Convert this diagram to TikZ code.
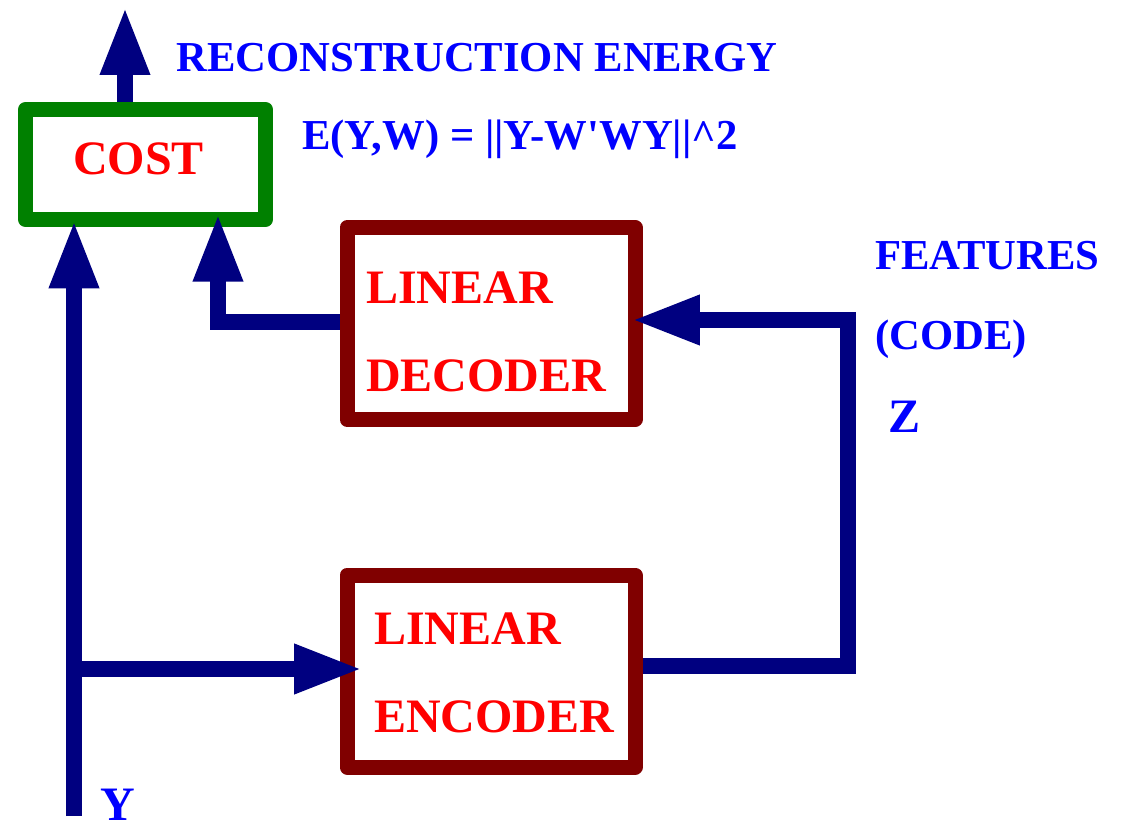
\documentclass[tikz,border=0pt]{standalone}
\usepackage{fontspec}
\setmainfont{Liberation Serif}
\usetikzlibrary{arrows.meta,calc}
\definecolor{navyc}{HTML}{000080}
\definecolor{boxred}{HTML}{800000}
\definecolor{costgreen}{HTML}{008000}
\definecolor{txtred}{HTML}{FF0000}
\definecolor{txtblue}{HTML}{0000FF}
\tikzset{
  blockbox/.style={draw=boxred, line width=11.25pt, line join=round, fill=white,
    minimum width=216pt, minimum height=144pt, inner sep=0pt},
  costbox/.style={draw=costgreen, line width=11.25pt, line join=round, fill=white,
    minimum width=180pt, minimum height=82.5pt, inner sep=0pt},
  conn/.style={draw=navyc, line width=11.5pt, line join=miter},
  tip/.style={-{Triangle[length=51pt,width=34.5pt]}},
  redtxt/.style={text=txtred, anchor=base west, inner sep=0pt,
    font=\fontsize{36}{40}\selectfont\bfseries},
  bluetxt/.style={text=txtblue, anchor=base west, inner sep=0pt,
    font=\fontsize{32}{36}\selectfont\bfseries},
  bigblue/.style={text=txtblue, anchor=base west, inner sep=0pt,
    font=\fontsize{36}{40}\selectfont\bfseries},
}
\begin{document}
\begin{tikzpicture}[x=0.75pt,y=-0.75pt]
\useasboundingbox (0,0) rectangle (1122,834);
% boxes
\node[costbox] (cost) at (145.5,164.5) {};
\node[blockbox] (dec) at (491,323.5) {};
\node[blockbox] (enc) at (491,671) {};
% texts
\node[redtxt] (costlbl) at (73,175) {COST};
\node[redtxt] (dec1) at (366,304) {LINEAR};
\node[redtxt] (dec2) at (366,392) {DECODER};
\node[redtxt] (enc1) at (374,644) {LINEAR};
\node[redtxt] (enc2) at (374,732) {ENCODER};
\node[bluetxt] (recon) at (176,72) {RECONSTRUCTION ENERGY};
\node[bluetxt] (formula) at (302,150) {E(Y,W) = ||Y-W\textquotesingle WY||\^{}2};
\node[bluetxt] (feat) at (875,270) {FEATURES};
\node[bluetxt] (code) at (875,350) {(CODE)};
\node[bigblue] (zlbl) at (888,433) {Z};
\node[bigblue] (ylbl) at (100,820) {Y};
% coordinates
\coordinate (out) at (125,7);
\coordinate (yin) at (74,816);
\coordinate (branch) at (74,669);
\coordinate (dcol) at (218,0);
\coordinate (zcol) at (848,0);
\coordinate (decin) at ($(dec.east)+(0,-3.5)$);
\coordinate (decout) at ($(dec.west)+(0,-1.5)$);
\coordinate (encout) at ($(enc.east)+(0,-5)$);
% connectors
\draw[conn,tip] (cost.north -| out) -- (out);
\draw[conn,tip,shorten >=-5pt] (yin) -- (yin |- cost.south);
\draw[conn,tip,shorten >=-17pt] (branch) -- (branch -| enc.west);
\draw[conn,tip,shorten >=-10pt] (decout) -| (dcol |- cost.south);
\draw[conn,tip,shorten >=-8pt] (encout) -| (zcol |- decin) -- (decin);
\end{tikzpicture}
\end{document}
